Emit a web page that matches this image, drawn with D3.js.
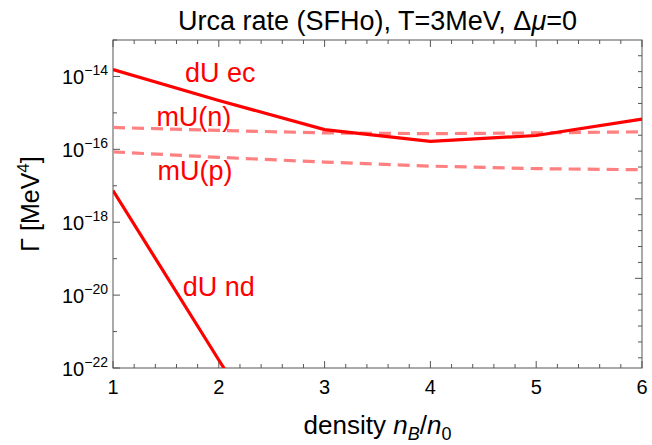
<!DOCTYPE html>
<html>
<head>
<meta charset="utf-8">
<script src="https://cdn.jsdelivr.net/npm/d3@7"></script>
<style>
  body { margin: 0; background: #fff; }
  text { font-family: "Liberation Sans", Arial, sans-serif; }
</style>
</head>
<body>
<svg id="chart" width="652" height="445"></svg>
<script>
// density n_B/n_0 and log10 of the rate
const density = [1, 2, 3, 4, 5, 6]
const dUec = [-13.81, -14.66, -15.46, -15.78, -15.62, -15.17]
const mUn = [-15.40, -15.48, -15.55, -15.57, -15.55, -15.52]
const mUp = [-16.07, -16.22, -16.35, -16.46, -16.53, -16.56]
const dUndDensity = [1, 2, 3]
const dUnd = [-17.13, -21.78, -26.4]

const xTicks = [1, 2, 3, 4, 5, 6]
const yExponents = [-22, -20, -18, -16, -14]

const svg = d3.select('#chart')
const W = 652, H = 445
const m = { left: 113, right: 10, top: 40, bottom: 77 }

const x = d3.scaleLinear().domain([1, 6]).range([m.left, W - m.right])
const y = d3.scaleLog().domain([1e-22, 1e-13]).range([H - m.bottom, m.top])

const frameColor = '#555'

// clip for curves
svg.append('clipPath').attr('id', 'plot-clip')
	.append('rect')
	.attr('x', m.left).attr('y', m.top)
	.attr('width', x(6) - x(1)).attr('height', y(1e-22) - y(1e-13))

// frame
svg.append('rect')
	.attr('x', m.left).attr('y', m.top)
	.attr('width', x(6) - x(1)).attr('height', y(1e-22) - y(1e-13))
	.attr('fill', 'none').attr('stroke', frameColor).attr('stroke-width', 1)

const ticks = svg.append('g').attr('stroke', frameColor).attr('stroke-width', 1)

// x ticks (bottom and top), minor every 0.2
const xMinor = d3.range(1, 6.001, 0.2).map(v => +v.toFixed(1))
xMinor.forEach(v => {
	const major = Math.abs(v - Math.round(v)) < 1e-6
	const len = major ? 7 : 4
	ticks.append('line')
		.attr('x1', x(v)).attr('x2', x(v))
		.attr('y1', y(1e-22)).attr('y2', y(1e-22) - len)
	ticks.append('line')
		.attr('x1', x(v)).attr('x2', x(v))
		.attr('y1', y(1e-13)).attr('y2', y(1e-13) + len)
})

// y ticks left, every decade
d3.range(-22, -12).forEach(e => {
	const major = e % 2 === 0
	ticks.append('line')
		.attr('x1', m.left).attr('x2', m.left + (major ? 7 : 4))
		.attr('y1', y(Math.pow(10, e))).attr('y2', y(Math.pow(10, e)))
})

// right frame ticks
const yRight = d3.scaleLinear().domain([-0.64, 19.99]).range([H - m.bottom, m.top])
d3.range(0, 20).forEach(v => {
	const major = v % 5 === 0 && v > 0
	ticks.append('line')
		.attr('x1', W - m.right).attr('x2', W - m.right - (major ? 7 : 4))
		.attr('y1', yRight(v)).attr('y2', yRight(v))
})

// x tick labels
svg.append('g').selectAll('text').data(xTicks).join('text')
	.attr('x', d => x(d)).attr('y', y(1e-22) + 26)
	.attr('text-anchor', 'middle')
	.attr('font-size', 20)
	.text(d => d)

// y tick labels 10^e
const yl = svg.append('g').selectAll('text').data(yExponents).join('text')
	.attr('x', m.left - 5).attr('y', d => y(Math.pow(10, d)) + 8)
	.attr('text-anchor', 'end')
	.attr('font-size', 20)
yl.append('tspan').text('10')
yl.append('tspan').attr('dy', -9).attr('font-size', 14).text(d => '\u2212' + Math.abs(d))

// curves
const line = d3.line().x(d => x(d[0])).y(d => y(Math.pow(10, d[1])))
const curves = svg.append('g').attr('clip-path', 'url(#plot-clip)')

curves.append('path')
	.datum(d3.zip(density, mUn))
	.attr('d', line)
	.attr('fill', 'none').attr('stroke', '#ff8080').attr('stroke-width', 3.2)
	.attr('stroke-dasharray', '12,7')
curves.append('path')
	.datum(d3.zip(density, mUp))
	.attr('d', line)
	.attr('fill', 'none').attr('stroke', '#ff8080').attr('stroke-width', 3.2)
	.attr('stroke-dasharray', '12,7')
curves.append('path')
	.datum(d3.zip(density, dUec))
	.attr('d', line)
	.attr('fill', 'none').attr('stroke', '#ff0000').attr('stroke-width', 3.2)
curves.append('path')
	.datum(d3.zip(dUndDensity, dUnd))
	.attr('d', line)
	.attr('fill', 'none').attr('stroke', '#ff0000').attr('stroke-width', 3.2)

// curve labels (baseline positions in data units)
const labels = [
	{ text: 'dU ec', d: 1.68, v: -14.15 },
	{ text: 'mU(n)', d: 1.41, v: -15.36 },
	{ text: 'mU(p)', d: 1.42, v: -16.84 },
	{ text: 'dU nd', d: 1.66, v: -20.03 }
]
svg.append('g').selectAll('text').data(labels).join('text')
	.attr('x', d => x(d.d)).attr('y', d => y(Math.pow(10, d.v)))
	.attr('font-size', 27)
	.attr('fill', '#ff0000')
	.text(d => d.text)

// title
const title = svg.append('text')
	.attr('x', (x(1) + x(6)) / 2).attr('y', 30)
	.attr('text-anchor', 'middle')
	.attr('font-size', 27)
title.append('tspan').text('Urca rate (SFHo), T=3MeV, \u0394')
title.append('tspan').attr('font-style', 'italic').text('\u03bc')
title.append('tspan').text('=0')

// x label
const xl = svg.append('text')
	.attr('x', (x(1) + x(6)) / 2).attr('y', 434)
	.attr('text-anchor', 'middle')
	.attr('font-size', 26)
xl.append('tspan').text('density ')
xl.append('tspan').attr('font-style', 'italic').text('n')
xl.append('tspan').attr('font-style', 'italic').attr('font-size', 18).attr('dy', 6).text('B')
xl.append('tspan').attr('dy', -6).text('/')
xl.append('tspan').attr('font-style', 'italic').text('n')
xl.append('tspan').attr('font-size', 18).attr('dy', 6).text('0')

// y label
const ylab = svg.append('text')
	.attr('transform', `translate(39, ${(y(1e-22) + y(1e-13)) / 2}) rotate(-90)`)
	.attr('text-anchor', 'middle')
	.attr('font-size', 25)
ylab.append('tspan').text('\u0393 [MeV')
ylab.append('tspan').attr('font-size', 17).attr('dy', -10).text('4')
ylab.append('tspan').attr('dy', 10).text(']')
</script>
</body>
</html>
